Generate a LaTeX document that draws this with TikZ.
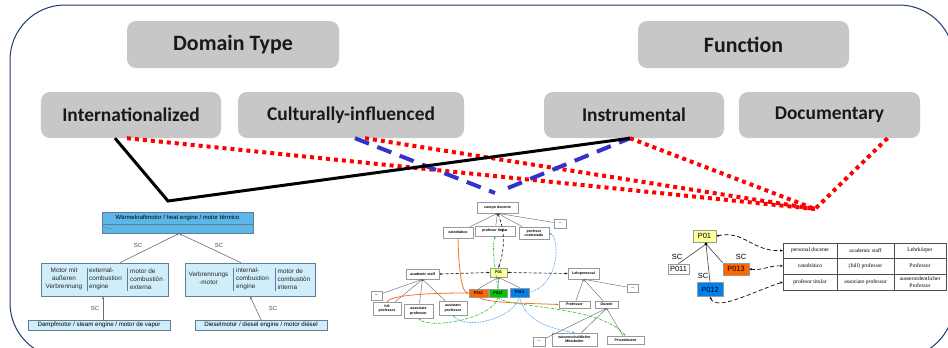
\documentclass[tikz,border=0pt]{standalone}
\usepackage{fontspec}
\setmainfont{Liberation Sans}
\newfontfamily\calib{Carlito}
\newfontfamily\timesf{Liberation Serif}
\usetikzlibrary{arrows.meta}

\definecolor{framenavy}{RGB}{31,56,112}
\definecolor{boxgray}{RGB}{199,199,199}
\definecolor{linkred}{RGB}{255,0,0}
\definecolor{linkblue}{RGB}{51,51,204}
\definecolor{engdark}{RGB}{92,182,232}
\definecolor{englight}{RGB}{208,237,250}
\definecolor{engborder}{RGB}{95,125,150}
\definecolor{roleyellow}{RGB}{255,255,153}
\definecolor{roleorange}{RGB}{255,102,0}
\definecolor{rolegreen}{RGB}{0,200,0}
\definecolor{roleblue}{RGB}{0,128,240}
\definecolor{edgegray}{RGB}{110,110,110}
\definecolor{mapgreen}{RGB}{40,190,40}
\definecolor{mapblue}{RGB}{70,155,240}
\definecolor{maporange}{RGB}{240,120,40}

\tikzset{
  catbox/.style={fill=boxgray, rounded corners=9bp, inner sep=0pt,
    font=\calib\bfseries\fontsize{19.5}{23}\selectfont, text=black!90},
  headbox/.style={catbox, font=\calib\bfseries\fontsize{22}{26}\selectfont},
  redlink/.style={draw=linkred, line width=4bp, dash pattern=on 4bp off 4bp},
  bluelink/.style={draw=linkblue, line width=4bp, dash pattern=on 15bp off 9bp},
  blacklink/.style={draw=black, line width=3bp},
  % engine taxonomy
  engbox/.style={draw=engborder, line width=0.6bp, fill=englight, inner sep=0pt},
  engtxt/.style={font=\fontsize{6.4}{8}\selectfont, inner sep=0pt, text=black!85},
  sclabel/.style={font=\fontsize{6}{7}\selectfont, text=black!70, inner sep=0pt},
  isa/.style={draw=edgegray, line width=0.6bp, -{Stealth[length=3bp,width=2.4bp]}},
  % teaching staff network
  mbox/.style={draw=gray!80, line width=0.6bp, fill=white, inner sep=0.5pt,
    font=\bfseries\fontsize{3.6}{4.2}\selectfont, align=center},
  mrole/.style={draw=gray!80, line width=0.6bp, inner sep=0.5pt,
    font=\bfseries\fontsize{4}{4.6}\selectfont},
  misa/.style={draw=edgegray, line width=0.45bp, -{Stealth[length=2bp,width=1.8bp]}},
  mdash/.style={draw=black!85, line width=0.7bp, dash pattern=on 3bp off 2bp,
    {Stealth[length=2.2bp,width=2bp]}-{Stealth[length=2.2bp,width=2bp]}},
  morange/.style={draw=maporange, line width=0.8bp, -{Stealth[length=2.2bp,width=2bp]}},
  mgreen/.style={draw=mapgreen, line width=0.7bp, dash pattern=on 2.5bp off 1.2bp on 0.6bp off 1.2bp,
    -{Stealth[length=2.2bp,width=2bp]}},
  mblue/.style={draw=mapblue, line width=0.7bp, dash pattern=on 0.8bp off 0.8bp,
    -{Stealth[length=2.2bp,width=2bp]}},
  % role table
  rbox/.style={draw=gray!80, line width=0.6bp, inner sep=0pt,
    font=\fontsize{7.5}{9}\selectfont},
  rsc/.style={font=\fontsize{7.5}{9}\selectfont, inner sep=0pt},
  cell/.style={draw=black!70, line width=0.5bp, inner sep=0pt, align=center,
    font=\timesf\fontsize{5.6}{6.2}\selectfont},
  rdash/.style={draw=black, line width=0.7bp, dash pattern=on 4bp off 2.5bp,
    {Stealth[length=2.6bp,width=2.4bp]}-{Stealth[length=2.6bp,width=2.4bp]}},
}

\begin{document}
\begin{tikzpicture}[x=1bp,y=-1bp]
\useasboundingbox (0,0) rectangle (948,347);
\fill[white] (0,0) rectangle (948,347);

% outer frame
\draw[framenavy, line width=1bp, rounded corners=55bp] (10,5) rectangle (954,358);

% category boxes
\node[headbox, minimum width=212bp, minimum height=47bp] (domain) at (233,44.5) {Domain Type};
\node[headbox, minimum width=211bp, minimum height=47bp] (function) at (743.5,44.5) {Function};
\node[catbox, minimum width=180bp, minimum height=46bp] (intl) at (131,115) {Internationalized};
\node[catbox, minimum width=226bp, minimum height=46bp] (cult) at (351,115) {Culturally-influenced};
\node[catbox, minimum width=180bp, minimum height=46bp] (instr) at (634,115) {Instrumental};
\node[catbox, minimum width=181bp, minimum height=46bp] (docu) at (829.5,115) {Documentary};

% ---------------- engine taxonomy ----------------
\node[engbox, fill=engdark, minimum width=151bp, minimum height=12bp] (wkm) at (177.5,218)
  {\fontsize{6}{7}\selectfont Wärmekraftmotor / heat engine / motor térmico};
\node[engbox, fill=engdark, minimum width=151bp, minimum height=9bp, anchor=north] (wkmattr) at (wkm.south) {};
\node[engtxt, anchor=west, font=\fontsize{5}{6}\selectfont] (wkmdots) at (104,228.5) {- ...};

\node[engbox, minimum width=127bp, minimum height=33bp] (extc) at (104.5,279.5) {};
\draw[engborder, line width=0.5bp] (87,268) -- (87,291) (127,268) -- (127,291);
\node[engtxt, align=center] (extc1) at (64,279) {Motor mit\\außeren\\Verbrennung};
\node[engtxt, align=left, anchor=west] (extc2) at (89,279) {external-\\combustion\\engine};
\node[engtxt, align=left, anchor=west] (extc3) at (130,279) {motor de\\combustión\\externa};

\node[engbox, minimum width=130bp, minimum height=33bp] (intc) at (250,279.5) {};
\draw[engborder, line width=0.5bp] (233,268) -- (233,291) (275,268) -- (275,291);
\node[engtxt, align=center] (intc1) at (208.5,278) {Verbrennungs\\-motor};
\node[engtxt, align=left, anchor=west] (intc2) at (236,279) {internal-\\combustion\\engine};
\node[engtxt, align=left, anchor=west] (intc3) at (277.5,279) {motor de\\combustión\\interna};

\node[engbox, minimum width=142bp, minimum height=10bp] (steam) at (99,325)
  {\fontsize{6.2}{7}\selectfont Dampfmotor / steam engine / motor de vapor};
\node[engbox, minimum width=132bp, minimum height=10bp] (diesel) at (261,325)
  {\fontsize{6.2}{7}\selectfont Dieselmotor / diesel engine / motor diésel};

\coordinate (wkmfoot) at (179,233.5);
\draw[isa] (extc.north -| 120,0) -- (wkmfoot);
\draw[isa] (intc.north -| 241,0) -- (wkmfoot);
\draw[isa] (steam.north -| 103,0) -- (extc.south -| 103,0);
\draw[isa] (diesel.north -| 261,0) -- (intc.south -| 250,0);
\node[sclabel] (sc1) at (138,245) {SC};
\node[sclabel] (sc2) at (219,245) {SC};
\node[sclabel] (sc3) at (95,308) {SC};
\node[sclabel] (sc4) at (273,308) {SC};

% ---------------- teaching staff network ----------------
\node[mbox, minimum width=41bp, minimum height=11bp] (cd) at (497.5,207.5) {cuerpo docente};
\node[mbox, minimum width=30bp, minimum height=11bp] (cat) at (458,232.5) {catedrático};
\node[mbox, minimum width=40bp, minimum height=10bp] (pt) at (495,231) {profesor titular};
\node[mbox, minimum width=30bp, minimum height=12bp] (pc) at (534,233) {profesor\\contratado};
\node[mbox, minimum width=12bp, minimum height=9bp] (dA) at (560,223.5) {...};
\node[mrole, fill=roleyellow, minimum width=17bp, minimum height=9bp] (p01m) at (498.5,272.5) {P01};
\node[mbox, minimum width=33bp, minimum height=10bp] (as) at (422.5,274) {academic staff};
\node[mbox, minimum width=31bp, minimum height=11bp] (lp) at (583.5,273.5) {Lehrpersonal};
\node[mbox, minimum width=11bp, minimum height=8bp] (dB) at (632.5,288) {...};
\node[mbox, minimum width=11bp, minimum height=9bp] (dC) at (376.5,295.5) {...};
\node[mrole, fill=roleorange, minimum width=19bp, minimum height=8bp] (p011m) at (478.5,293) {P011};
\node[mrole, fill=rolegreen, minimum width=18bp, minimum height=8bp] (p012m) at (498,293) {P012};
\node[mrole, fill=roleblue, minimum width=19bp, minimum height=9bp] (p013m) at (519.5,292.5) {P013};
\node[mbox, minimum width=28bp, minimum height=13bp] (fp) at (387,308.5) {full\\professor};
\node[mbox, minimum width=29bp, minimum height=14bp] (ap) at (418.5,311) {associate\\professor};
\node[mbox, minimum width=28bp, minimum height=14bp] (sp) at (453,308) {assistant\\professor};
\node[mbox, minimum width=31bp, minimum height=7bp] (pr) at (574.5,304.5) {Professor};
\node[mbox, minimum width=23bp, minimum height=7bp] (dz) at (606.5,304.5) {Dozent};
\node[mbox, minimum width=12bp, minimum height=9bp] (dD) at (539,341.5) {...};
\node[mbox, minimum width=45bp, minimum height=13bp] (wm) at (574.5,339.5) {wissenschaftlicher\\Mitarbeiter};
\node[mbox, minimum width=37bp, minimum height=8bp] (pd) at (625.5,340) {Privatdozent};

% taxonomy links
\foreach \c in {cat,pt,pc,dA} \draw[misa] (\c) -- (cd.south);
\foreach \c in {dC,fp,ap,sp} \draw[misa] (\c) -- (as.south);
\foreach \c in {pr,dz,dB} \draw[misa] (\c) -- (lp.south);
\foreach \c in {dD,wm,pd} \draw[misa] (\c) -- (dz.south);
\foreach \c in {p011m,p012m,p013m} \draw[misa] (\c.north) -- (p01m.south);

% equivalence links
\draw[mdash] (as.east) -- (p01m.west);
\draw[mdash] (p01m.east) -- (lp.west);
\draw[mdash] (cd.south) .. controls (506,232) and (504,252) .. (p01m.north);
\draw[morange] (cat.south) .. controls (459,275) and (462,292) .. (p011m.west);
\draw[morange] (fp.north) .. controls (392,294) and (440,293) .. (p011m.west);
\draw[morange] (p011m.south) .. controls (488,303) and (520,303) .. (pr.west);
\draw[mgreen] (p012m.north) .. controls (494,260) and (492,250) .. (pt.south);
\draw[mgreen] (p012m.south) .. controls (494,318) and (430,330) .. (ap.south);
\draw[mgreen] (p012m.south) .. controls (505,308) and (600,305) .. (pd.north);
\draw[mblue] (p013m.east) .. controls (560,285) and (560,238) .. (pc.east);
\draw[mblue] (p013m.south) .. controls (512,320) and (465,330) .. (sp.south);
\draw[mblue] (p013m.south) .. controls (526,325) and (560,330) .. (wm.north);

% ---------------- role table ----------------
\node[rbox, fill=roleyellow, minimum width=23bp, minimum height=12bp] (rp01) at (704.5,236) {P01};
\node[rbox, fill=white, minimum width=21bp, minimum height=10bp] (rp011) at (678.5,269) {P011};
\node[rbox, fill=roleblue, minimum width=26bp, minimum height=14bp] (rp012) at (710,289.5) {P012};
\node[rbox, fill=roleorange, minimum width=26bp, minimum height=12bp] (rp013) at (736,269) {P013};
\coordinate (hub) at (706,244);
\draw[black!75, line width=0.6bp] (hub) -- (rp011.north);
\draw[black!75, line width=0.6bp] (hub) -- (rp012.north);
\draw[black!75, line width=0.6bp] (hub) -- (rp013.north west);
\fill (hub) circle (1.6bp);
\node[rsc] (rsc1) at (677,257) {SC};
\node[rsc] (rsc2) at (703,276) {SC};
\node[rsc] (rsc3) at (741,257) {SC};

\node[cell, minimum width=54bp, minimum height=15bp] (t11) at (810,250.5) {personal docente};
\node[cell, minimum width=57bp, minimum height=15bp] (t12) at (865.5,250.5) {academic staff};
\node[cell, minimum width=52bp, minimum height=15bp] (t13) at (920,250.5) {Lehrkörper};
\node[cell, minimum width=54bp, minimum height=16bp] (t21) at (810,266) {catedrático};
\node[cell, minimum width=57bp, minimum height=16bp] (t22) at (865.5,266) {(full) professor};
\node[cell, minimum width=52bp, minimum height=16bp] (t23) at (920,266) {Professor};
\node[cell, minimum width=54bp, minimum height=16bp] (t31) at (810,282) {profesor titular};
\node[cell, minimum width=57bp, minimum height=16bp] (t32) at (865.5,282) {associate professor};
\node[cell, minimum width=52bp, minimum height=16bp] (t33) at (920,282) {ausserordentlicher\\Professor};

\draw[rdash] (rp01.east) .. controls (745,230) and (752,252) .. (t11.west);
\draw[rdash] (rp013.east) .. controls (762,271) and (770,265) .. (t21.west);
\draw[rdash] (rp012.south) .. controls (716,312) and (752,292) .. (t31.west);

% ---------------- category links ----------------
\coordinate (redmeet) at (815,209);
\coordinate (blackbend) at (168,201);
\coordinate (blueleft) at (495,193);
\coordinate (blueright) at (508,188);
\draw[redlink] ([xshift=-4bp]intl.south) -- (redmeet);
\draw[redlink] ([xshift=14bp]cult.south) -- (redmeet);
\draw[redlink] ([xshift=-4bp]instr.south) -- (redmeet);
\draw[redlink] ([xshift=58bp]docu.south) -- (redmeet);
\draw[bluelink] ([xshift=4bp]cult.south) -- (blueleft);
\draw[bluelink] (blueright) -- ([xshift=-4bp]instr.south);
\draw[blacklink] ([xshift=-16bp]intl.south) -- (blackbend) -- ([xshift=-4bp]instr.south);
\end{tikzpicture}
\end{document}
